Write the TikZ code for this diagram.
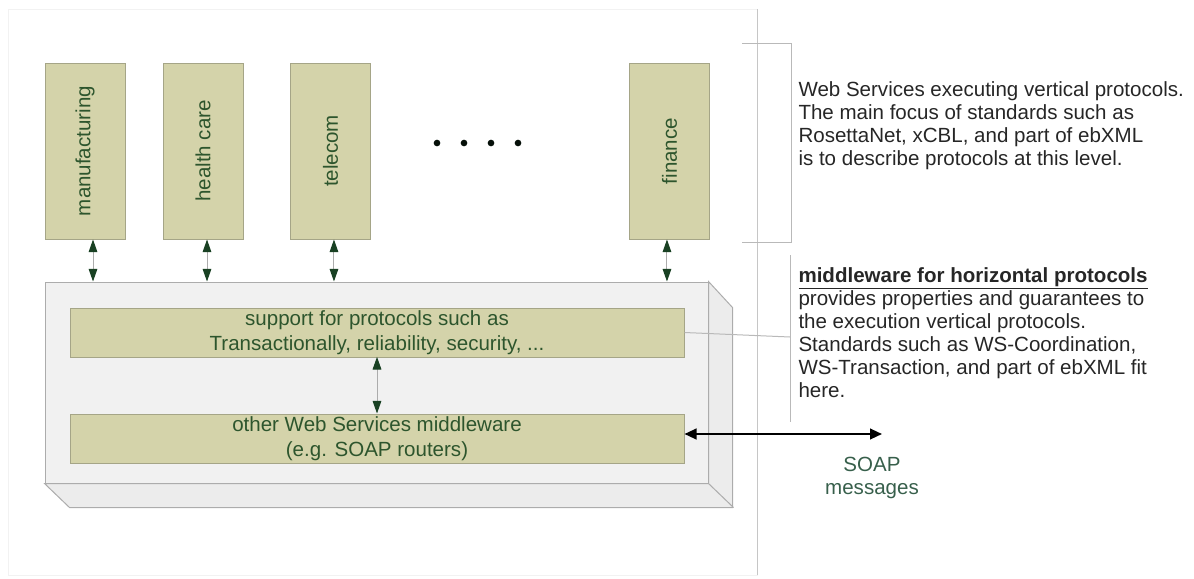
\documentclass[tikz,border=0pt]{standalone}
\usepackage{fontspec}
\setmainfont{Liberation Sans}
\usepackage{graphicx}
\usetikzlibrary{arrows.meta}

\definecolor{boxfill}{RGB}{212,211,170}
\definecolor{boxline}{RGB}{165,165,135}
\definecolor{txtgreen}{RGB}{45,85,45}
\definecolor{tipgreen}{RGB}{25,65,35}
\definecolor{mwfill}{RGB}{241,241,241}
\definecolor{mwside}{RGB}{236,236,236}
\definecolor{mwline}{RGB}{172,172,172}
\definecolor{soapgreen}{RGB}{55,95,75}

\tikzset{every picture/.style={line width=0.75pt}}
\tikzset{
  bigfont/.style={font=\fontsize{15.4pt}{17.3pt}\selectfont},
  vertbox/.style={draw=boxline, fill=boxfill, minimum width=60pt, minimum height=132pt, inner sep=0pt, text=txtgreen, bigfont},
  layerbox/.style={draw=boxline, fill=boxfill, minimum width=460.5pt, minimum height=36.75pt, inner sep=0pt, text=txtgreen, align=center, font=\fontsize{15.4pt}{18.4pt}\selectfont},
  mwface/.style={draw=mwline, fill=mwfill, minimum width=497.25pt, minimum height=150.75pt, inner sep=0pt},
  vlink/.style={draw=gray!65, line width=0.75pt, {Triangle[color=tipgreen,length=9.5pt,width=6.5pt]}-{Triangle[color=tipgreen,length=9.5pt,width=6.5pt]}},
  soaplink/.style={draw=black, line width=1.6pt, {Triangle[length=9pt,width=8pt]}-{Triangle[length=9pt,width=8pt]}},
  notetext/.style={anchor=north west, inner sep=0pt, align=left, text=black!85, bigfont},
  bracketline/.style={draw=gray!55, line width=0.75pt}
}

\begin{document}
\begin{tikzpicture}[x=0.75pt,y=0.75pt,yscale=-1,xscale=1]
\useasboundingbox (0,0) rectangle (1194,578);

%Shape: Frame
\draw [gray!10] (8,9) rectangle (757,575) ;
\draw [gray!45] (757,9) -- (757,575) ;

%Shape: vertical protocols
\node [vertbox] (manuf) at (85,151) {\rotatebox{90}{manufacturing}};
\node [vertbox] (health) at (203,151) {\rotatebox{90}{health care}};
\node [vertbox] (tele) at (330.5,151) {\rotatebox{90}{telecom}};
\node [vertbox] (fin) at (669.5,151) {\rotatebox{90}{finance}};
%Dots
\foreach \x in {437,464,491,518}
  \fill [black!75!tipgreen] (\x,143) circle (2.5pt) ;

%Shape: middleware block
\node [mwface] (mw) at (376.5,382.5) {};
\draw [mwline, fill=mwside] (mw.south west) -- ++(25,24) -- ++(663,0) -- ++(0,-200) -- (mw.north east) -- (mw.south east) -- cycle ;
\draw [mwline] (mw.south east) -- ++(25,24) ;

%Shape: horizontal layers
\node [layerbox] (sup) at (377,332.5) {support for protocols such as\\Transactionally, reliability, security, ...};
\node [layerbox] (oth) at (377,438.5) {other Web Services middleware\\(e.g. SOAP routers)};

%Straight Lines: links
\foreach \b/\s in {manuf/6,health/3,tele/2.6,fin/-1.9}
  \draw [vlink] ([xshift=\s pt]\b.south) -- ([xshift=\s pt]\b.south |- mw.north) ;
\draw [vlink] ([yshift=-0.5pt]sup.south) -- (oth.north) ;

%Brackets
\draw [bracketline] (742,43) -- (791,43) -- (791,242) -- (742,242) ;
\draw [bracketline] (790,255) -- (790,422) ;
\coordinate (hbr) at (790,337) ;
\draw [bracketline] (sup.east) -- (hbr) ;

%SOAP arrow
\coordinate (soapend) at (882,434) ;
\draw [soaplink] (oth.east |- soapend) -- (soapend) ;

% Text Node
\node [notetext] (vnote) at (798,81) {Web Services executing vertical protocols.\\The main focus of standards such as\\RosettaNet, xCBL, and part of ebXML\\is to describe protocols at this level.};
% Text Node
\node [notetext] (hnote) at (798,267) {\underline{\textbf{middleware for horizontal protocols}}\\provides properties and guarantees to\\the execution vertical protocols.\\Standards such as WS-Coordination,\\WS-Transaction, and part of ebXML fit\\here.};
% Text Node
\node [align=center, text=soapgreen, bigfont, inner sep=0pt] (soap) at (872,478) {SOAP\\messages};

\end{tikzpicture}
\end{document}
